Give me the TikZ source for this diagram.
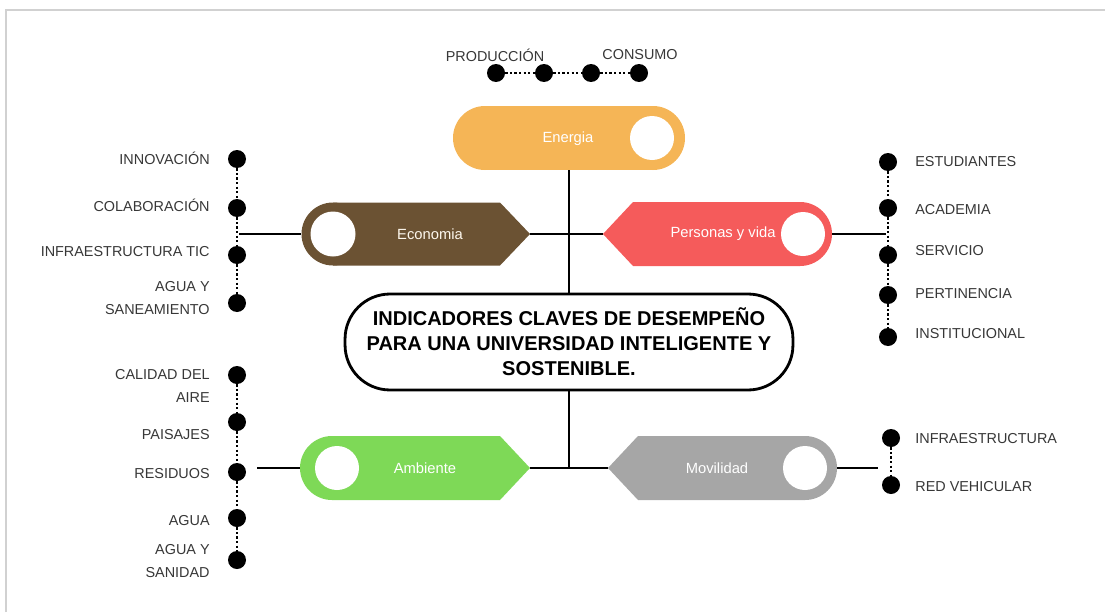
\documentclass[tikz,border=0pt]{standalone}
\usepackage{fontspec}
\setmainfont{Liberation Sans}
\definecolor{kpiE}{RGB}{245,181,86}
\definecolor{kpiB}{RGB}{107,82,51}
\definecolor{kpiR}{RGB}{245,91,91}
\definecolor{kpiG}{RGB}{126,217,87}
\definecolor{kpiM}{RGB}{166,166,166}
\definecolor{kpiT}{RGB}{55,55,55}

\begin{document}
\begin{tikzpicture}[x=0.02cm,y=-0.02cm,
  dot/.style={circle,fill=black,inner sep=0pt,minimum size=0.36cm},
  lbl/.style={inner sep=0pt,text=kpiT,font=\fontsize{8.2}{13}\selectfont},
  lblL/.style={lbl,anchor=east,align=right},
  lblR/.style={lbl,anchor=west,align=left},
  pilltext/.style={text=white,inner sep=0pt,font=\fontsize{8.4}{10}\selectfont},
  link/.style={line width=1.1pt},
  chain/.style={line width=1.2pt,dash pattern=on 1.3pt off 1.3pt}]
\useasboundingbox (0,0) rectangle (1105,612);
\draw[black!18,line width=1.2pt] (6,612) -- (6,10) -- (1105,10);

% energia
\fill[kpiE] (485,138) circle (32) (653,138) circle (32);
\fill[kpiE] (485,106) rectangle (653,170);
\fill[white] (652,138) circle (22);
\node[pilltext] (ener) at (568,139) {Energia};
\coordinate (enerS) at (569,170);

\node[dot] (p1) at (496,73) {};
\node[dot] (p2) at (544,73) {};
\node[dot] (p3) at (591,73) {};
\node[dot] (p4) at (639,73) {};
\draw[chain] (p1) -- (p2) (p2) -- (p3) (p3) -- (p4);
\node[lbl] (prod) at (495,55) {PRODUCCIÓN};
\node[lbl] (cons) at (640,55) {CONSUMO};

% economia
\fill[kpiB] (333,234) circle (31.5);
\fill[kpiB] (333,202.5) -- (500,202.5) -- (530,234) -- (500,265.5) -- (333,265.5) -- cycle;
\fill[white] (333,234) circle (22.5);
\node[pilltext,text=white!90!kpiE] (eco) at (430,234) {Economia};
\coordinate (ecoW) at (301,234);
\coordinate (ecoE) at (530,234);

% personas y vida
\fill[kpiR] (800,234) circle (32);
\fill[kpiR] (800,202) -- (633,202) -- (603,234) -- (633,266) -- (800,266) -- cycle;
\node[pilltext] (per) at (723,234) {Personas y vida};
\fill[white] (803,234) circle (22);
\coordinate (perW) at (603,234);
\coordinate (perE) at (832,234);

% centro
\node[draw,line width=1.6pt,rounded corners=0.9cm,minimum width=8.96cm,minimum height=1.92cm,
  align=center,font=\bfseries\fontsize{11.4}{14.2}\selectfont] (kpi) at (569,342)
  {INDICADORES CLAVES DE DESEMPEÑO\\PARA UNA UNIVERSIDAD INTELIGENTE Y\\SOSTENIBLE.};

% ambiente
\fill[kpiG] (332,468) circle (32);
\fill[kpiG] (332,436) -- (500,436) -- (530,468) -- (500,500) -- (332,500) -- cycle;
\fill[white] (337,468) circle (22);
\node[pilltext] (amb) at (425,468) {Ambiente};
\coordinate (ambW) at (300,468);
\coordinate (ambE) at (530,468);

% movilidad
\fill[kpiM] (805,468) circle (32);
\fill[kpiM] (805,436) -- (638,436) -- (608,468) -- (638,500) -- (805,500) -- cycle;
\fill[white] (805,468) circle (22);
\node[pilltext] (mov) at (717,468) {Movilidad};
\coordinate (movW) at (608,468);
\coordinate (movE) at (837,468);

% tronco
\coordinate (hubS) at (569,468);
\draw[link] (enerS) -- (kpi.north);
\draw[link] (kpi.south) -- (hubS);
\draw[link] (ecoE) -- (perW);
\draw[link] (ambE) -- (movW);

% izquierda arriba
\node[dot] (a1) at (237,159) {};
\node[dot] (a2) at (237,208) {};
\node[dot] (a3) at (237,255) {};
\node[dot] (a4) at (237,303) {};
\draw[chain] (a1) -- (a2) (a2) -- (a3) (a3) -- (a4);
\node[lblL] (innov) at (210,158) {INNOVACIÓN};
\node[lblL] (colab) at (210,205) {COLABORACIÓN};
\node[lblL] (tic) at (210,252) {INFRAESTRUCTURA TIC};
\node[lblL] (sane) at (210,298) {AGUA Y\\SANEAMIENTO};
\coordinate (aJ) at (239,234);
\draw[link] (aJ) -- (ecoW);

% derecha arriba
\node[dot] (b1) at (888,162) {};
\node[dot] (b2) at (888,208) {};
\node[dot] (b3) at (888,255) {};
\node[dot] (b4) at (888,295) {};
\node[dot] (b5) at (888,337) {};
\draw[chain] (b1) -- (b2) (b2) -- (b3) (b3) -- (b4) (b4) -- (b5);
\node[lblR] (estu) at (915,162) {ESTUDIANTES};
\node[lblR] (acad) at (915,210) {ACADEMIA};
\node[lblR] (serv) at (915,251) {SERVICIO};
\node[lblR] (pert) at (915,294) {PERTINENCIA};
\node[lblR] (inst) at (915,334) {INSTITUCIONAL};
\coordinate (bJ) at (886,234);
\draw[link] (perE) -- (bJ);

% izquierda abajo
\node[dot] (c1) at (237,375) {};
\node[dot] (c2) at (237,422) {};
\node[dot] (c3) at (237,472) {};
\node[dot] (c4) at (237,518) {};
\node[dot] (c5) at (237,560) {};
\draw[chain] (c1) -- (c2) (c2) -- (c3) (c3) -- (c4) (c4) -- (c5);
\node[lblL] (aire) at (210,386) {CALIDAD DEL\\AIRE};
\node[lblL] (pais) at (210,435) {PAISAJES};
\node[lblL] (resi) at (210,474) {RESIDUOS};
\node[lblL] (agua) at (210,521) {AGUA};
\node[lblL] (sani) at (210,561) {AGUA Y\\SANIDAD};
\coordinate (cJ) at (257,468);
\draw[link] (cJ) -- (ambW);

% derecha abajo
\node[dot] (d1) at (891,438) {};
\node[dot] (d2) at (891,485) {};
\draw[chain] (d1) -- (d2);
\node[lblR] (infra) at (915,439) {INFRAESTRUCTURA};
\node[lblR] (red) at (915,487) {RED VEHICULAR};
\coordinate (dJ) at (878,468);
\draw[link] (movE) -- (dJ);
\end{tikzpicture}
\end{document}
